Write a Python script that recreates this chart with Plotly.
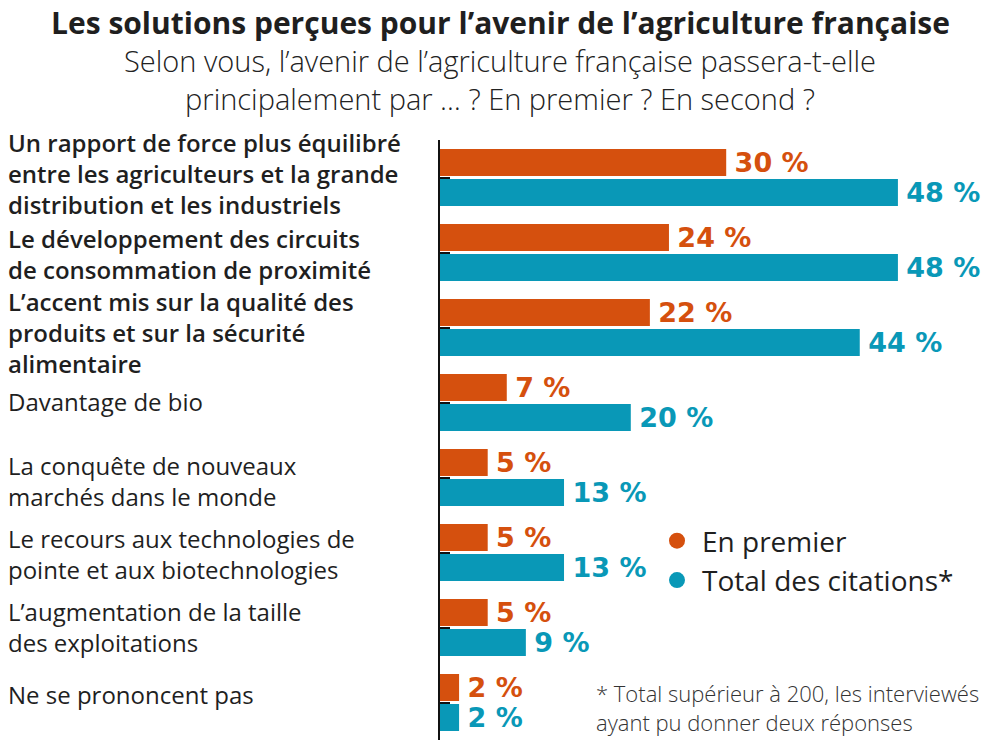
import plotly.graph_objects as go

categories = [
    "Un rapport de force plus équilibré<br>entre les agriculteurs et la grande<br>distribution et les industriels",
    "Le développement des circuits<br>de consommation de proximité",
    "L’accent mis sur la qualité des<br>produits et sur la sécurité<br>alimentaire",
    "Davantage de bio",
    "La conquête de nouveaux<br>marchés dans le monde",
    "Le recours aux technologies de<br>pointe et aux biotechnologies",
    "L’augmentation de la taille<br>des exploitations",
    "Ne se prononcent pas",
]
bold_flags = [True, True, True, False, False, False, False, False]
en_premier = [30, 24, 22, 7, 5, 5, 5, 2]
total_citations = [48, 48, 44, 20, 13, 13, 9, 2]
series_names = ["En premier", "Total des citations*"]

# layout: vertical nudge (px, positive = down) of each category label
LABEL_NUDGE = [-4.5, 1, 5, -1, 3, 1, -1, -8]

ORANGE = "#d5500e"
TEAL = "#0998b7"
INK = "#1f1f1f"

W, H = 1000, 749
ML, MR, MT, MB = 440, 0, 140, 9
PW = W - ML - MR
PH = H - MT - MB

def px_x(x):
    return (x - ML) / PW

def px_y(y):
    return 1 - (y - MT) / PH

fig = go.Figure()
for vals, col in [(en_premier, ORANGE), (total_citations, TEAL)]:
    fig.add_trace(go.Bar(
        y=list(range(len(categories))), x=vals, orientation="h",
        marker=dict(color=col, line=dict(width=0)),
        texttemplate="\u2009%{x} %", textposition="outside",
        textfont=dict(family="DejaVu Sans", size=27, color=col, weight="bold"),
        constraintext="none", cliponaxis=False, showlegend=False,
        hoverinfo="skip",
    ))

for name, col, grp in [(series_names[0], ORANGE, "a"), (series_names[1], TEAL, "b")]:
    fig.add_trace(go.Scatter(
        x=[None], y=[None], mode="markers", name=name, legendgroup=grp,
        marker=dict(color=col, size=16, symbol="circle"),
    ))

# category labels, left aligned
for i, (lab, b) in enumerate(zip(categories, bold_flags)):
    fig.add_annotation(
        xref="paper", yref="y", x=px_x(6), y=i, yshift=-LABEL_NUDGE[i],
        text=lab, showarrow=False, xanchor="left", yanchor="middle",
        align="left",
        font=dict(family="Open Sans", size=24, color=INK,
                  weight=600 if b else 400),
    )

# title & subtitle
fig.add_annotation(
    xref="paper", yref="paper", x=px_x(500), y=px_y(23),
    text="Les solutions perçues pour l’avenir de l’agriculture française",
    showarrow=False, xanchor="center", yanchor="middle",
    font=dict(family="Open Sans", size=30, color=INK, weight=700),
)
fig.add_annotation(
    xref="paper", yref="paper", x=px_x(500), y=px_y(80),
    text="Selon vous, l’avenir de l’agriculture française passera-t-elle<br>principalement par … ? En premier ? En second ?",
    showarrow=False, xanchor="center", yanchor="middle", align="center",
    font=dict(family="Open Sans", size=29, color="#222222", weight=300),
)
# footnote
fig.add_annotation(
    xref="paper", yref="paper", x=px_x(594), y=px_y(707),
    text="* Total supérieur à 200, les interviewés<br>ayant pu donner deux réponses",
    showarrow=False, xanchor="left", yanchor="middle", align="left",
    font=dict(family="Open Sans", size=22, color="#333333", weight=300),
)

fig.update_layout(
    width=W, height=H,
    margin=dict(l=ML, r=MR, t=MT, b=MB, pad=0),
    paper_bgcolor="white", plot_bgcolor="white",
    barmode="group", bargap=0.2, bargroupgap=0.1,
    showlegend=True,
    legend=dict(
        x=px_x(652), y=px_y(516), xanchor="left", yanchor="top",
        font=dict(family="Open Sans", size=28, color=INK),
        tracegroupgap=0, itemwidth=40, bgcolor="rgba(0,0,0,0)",
    ),
    xaxis=dict(range=[0, 58.7], visible=False, fixedrange=True),
    yaxis=dict(
        range=[len(categories) - 0.5, -0.5],
        tickmode="array", tickvals=list(range(len(categories))),
        showticklabels=False, showgrid=False, zeroline=False,
        showline=True, linecolor="#111111", linewidth=2,
        ticks="inside", ticklen=10, tickwidth=2, tickcolor="#111111",
        fixedrange=True,
    ),
)

fig.write_html("out.html", config={"displayModeBar": False},
               post_script="document.body.style.margin='0px';")
